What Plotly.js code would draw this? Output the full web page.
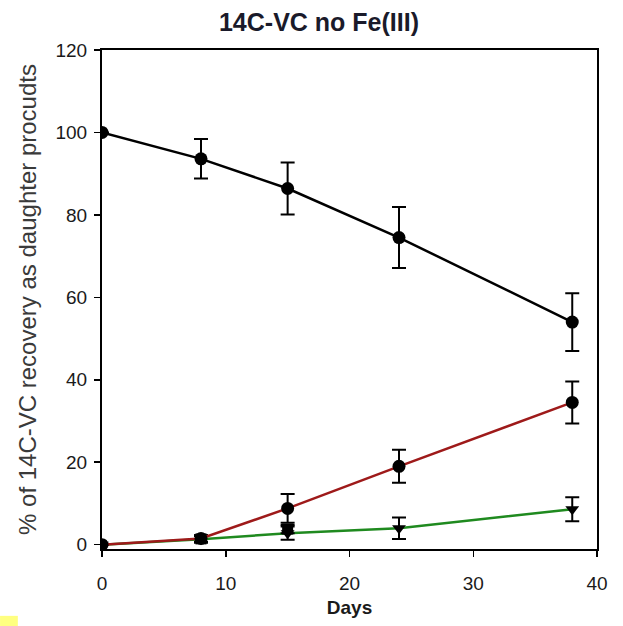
<!DOCTYPE html>
<html>
<head>
<meta charset="utf-8">
<script src="https://cdn.plot.ly/plotly-3.0.1.min.js"></script>
<style>
html,body{margin:0;padding:0;background:#fff;}
#chart{width:623px;height:626px;}
</style>
</head>
<body>
<div id="chart"></div>
<script>
// Data
const days = [0, 8, 15, 24, 38];
const vcRemaining = [100, 93.6, 86.4, 74.5, 54.0];
const vcRemainingErr = [0, 4.8, 6.3, 7.4, 7.0];
const redProduct = [0, 1.5, 8.8, 19.0, 34.5];
const redProductErr = [0, 0.8, 3.5, 4.0, 5.1];
const greenProduct = [0, 1.3, 2.8, 4.0, 8.6];
const greenProductErr = [0, 0.8, 1.6, 2.6, 2.9];
const squareDays = [8, 15];
const squareValues = [1.4, 3.8];
const squareErr = [0.9, 1.0];

const titleText = '14C-VC no Fe(III)';
const xTitle = 'Days';
const yTitle = '% of 14C-VC recovery as daughter procudts';
const xTicks = [0, 10, 20, 30, 40];
const yTicks = [0, 20, 40, 60, 80, 100, 120];

const errStyle = (arr) => ({type: 'data', array: arr, visible: true, color: '#000', thickness: 2, width: 7});

const traces = [
  {x: days, y: greenProduct, type: 'scatter', mode: 'lines+markers',
   line: {color: '#1f8a1f', width: 2.5},
   marker: {symbol: 'triangle-down', size: 12, color: '#000'},
   error_y: errStyle(greenProductErr)},
  {x: squareDays, y: squareValues, type: 'scatter', mode: 'markers',
   marker: {symbol: 'square', size: 11, color: '#000'},
   error_y: errStyle(squareErr)},
  {x: days, y: redProduct, type: 'scatter', mode: 'lines+markers',
   line: {color: '#9e1a1a', width: 2.5},
   marker: {symbol: 'circle', size: 13, color: '#000'},
   error_y: errStyle(redProductErr)},
  {x: days, y: vcRemaining, type: 'scatter', mode: 'lines+markers',
   line: {color: '#000', width: 2.5},
   marker: {symbol: 'circle', size: 13, color: '#000'},
   error_y: errStyle(vcRemainingErr)}
];

const layout = {
  width: 623, height: 626,
  margin: {l: 102, r: 26, t: 50, b: 77},
  paper_bgcolor: '#fff', plot_bgcolor: '#fff',
  showlegend: false,
  font: {family: 'Liberation Sans, Arial, sans-serif', color: '#1a1a1a'},
  title: {text: '<b>' + titleText + '</b>', x: 0.512, xanchor: 'center', y: 0.965, yanchor: 'middle',
          font: {size: 25, color: '#1a1a2a', family: 'Liberation Sans, Arial, sans-serif'}},
  xaxis: {range: [0, 40], tickvals: xTicks, ticks: 'outside', ticklen: 6, tickwidth: 1.5, tickcolor: '#000',
          showline: true, linecolor: '#000', linewidth: 2, mirror: true, showgrid: false, zeroline: false,
          ticklabelstandoff: 10,
          tickfont: {size: 19, color: '#1a1a1a'},
          title: {text: '<b>' + xTitle + '</b>', font: {size: 19, color: '#1a1a1a'}, standoff: 8}},
  yaxis: {range: [-1.05, 120], tickvals: yTicks, ticks: 'outside', ticklen: 6, tickwidth: 1.5, tickcolor: '#000',
          showline: true, linecolor: '#000', linewidth: 2, mirror: true, showgrid: false, zeroline: false,
          ticklabelstandoff: 3,
          tickfont: {size: 19, color: '#1a1a1a'},
          title: {text: yTitle, font: {size: 24, color: '#3a3a3a'}, standoff: 12}},
  shapes: [
    {type: 'rect', xref: 'paper', yref: 'paper', x0: -0.206, x1: -0.170, y0: -0.155, y1: -0.134,
     fillcolor: '#ffff80', line: {width: 0}, layer: 'below'}
  ]
};

Plotly.newPlot('chart', traces, layout, {displayModeBar: false, staticPlot: true});
</script>
</body>
</html>
